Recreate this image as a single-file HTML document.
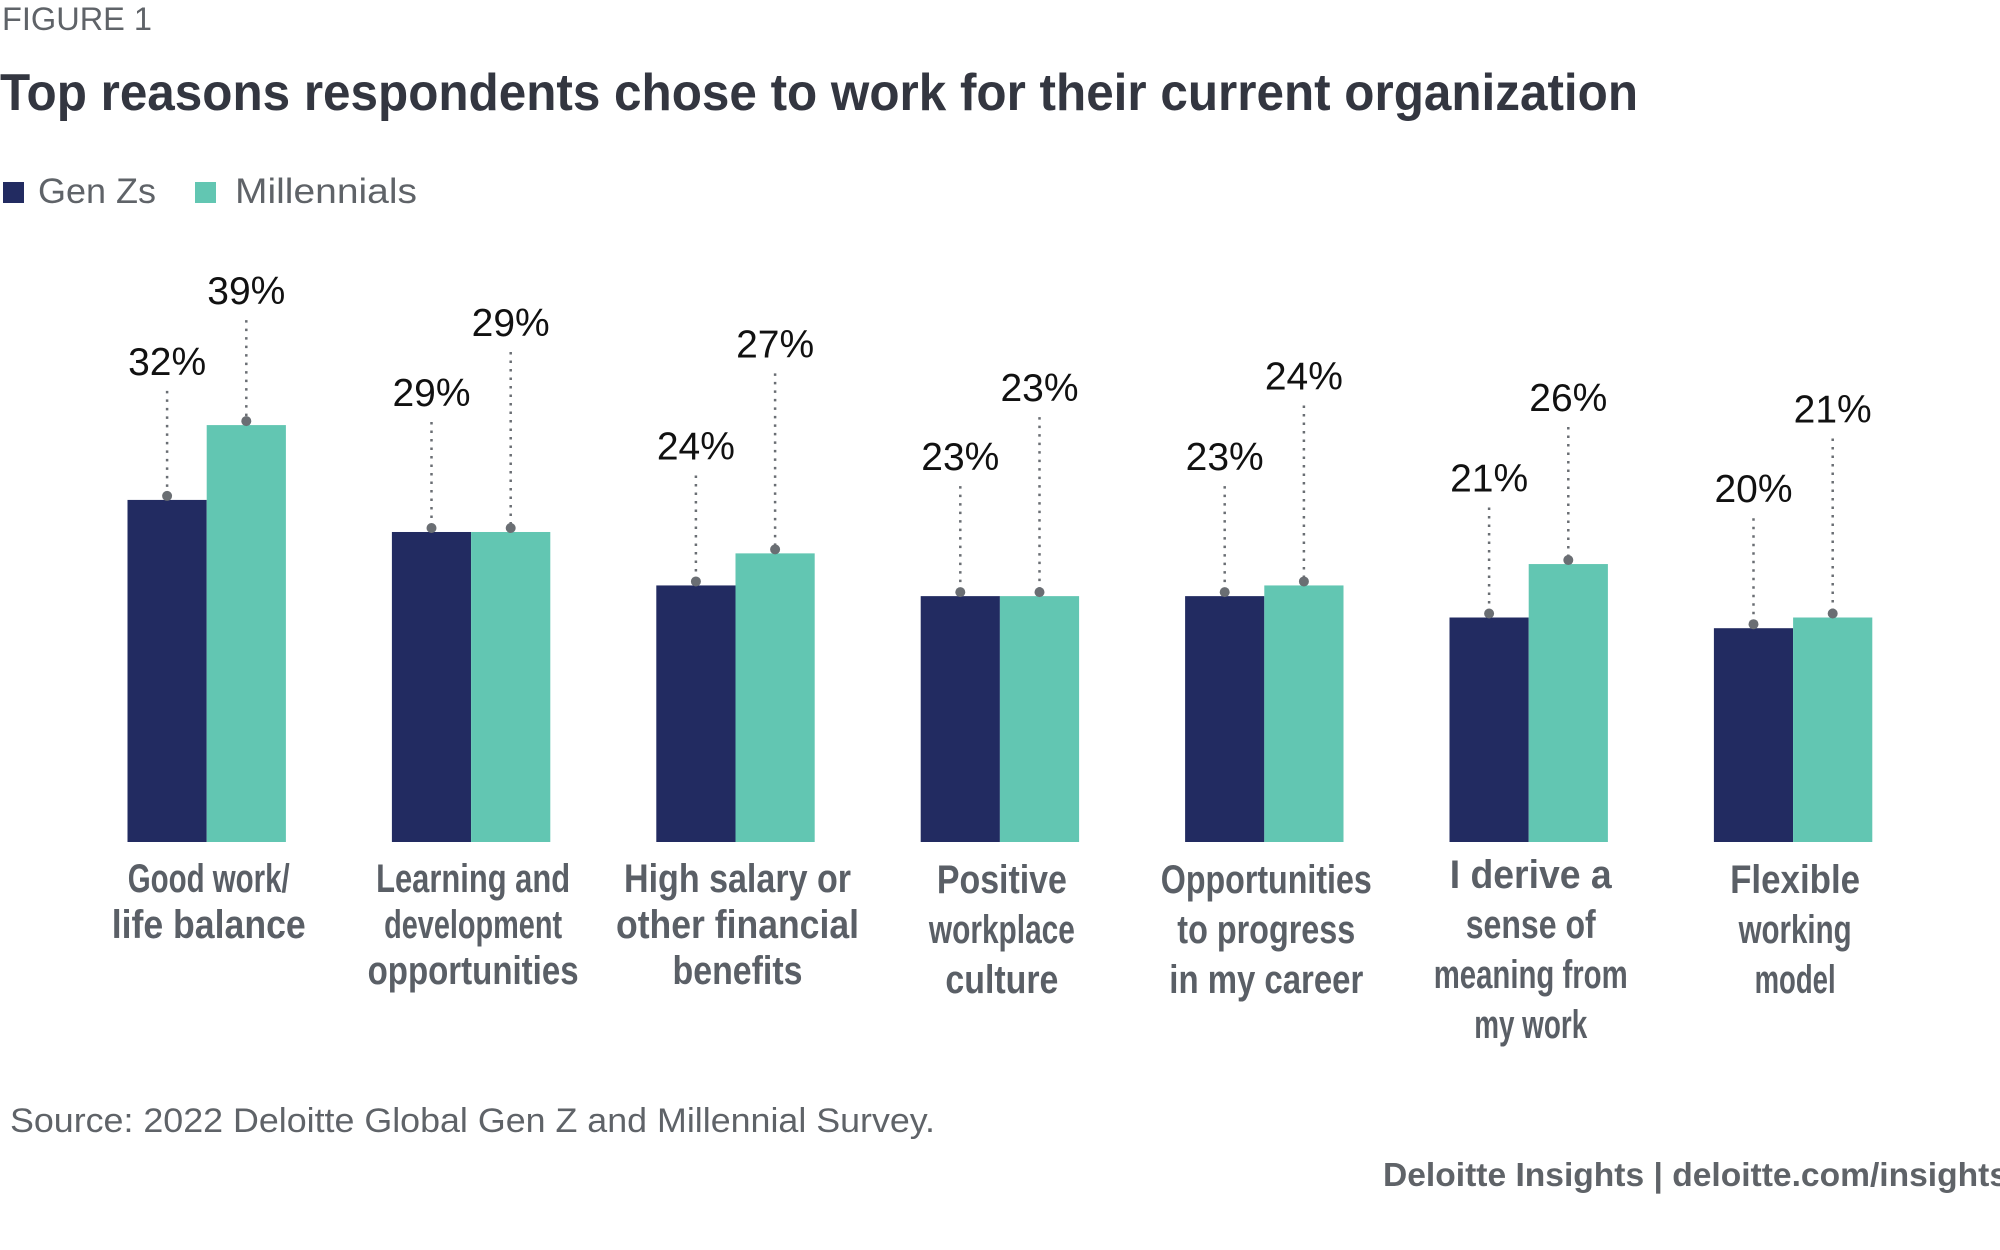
<!DOCTYPE html>
<html><head><meta charset="utf-8"><style>
html,body{margin:0;padding:0;background:#fff;}
svg{display:block;font-family:"Liberation Sans",sans-serif;}
</style></head><body>
<svg id="chart" width="2000" height="1250" viewBox="0 0 2000 1250" xmlns="http://www.w3.org/2000/svg">
<text x="2" y="30" font-size="32" fill="#5f6368" textLength="150" lengthAdjust="spacingAndGlyphs">FIGURE 1</text>
<text x="0" y="110" font-size="52" font-weight="bold" fill="#333640" textLength="1638" lengthAdjust="spacingAndGlyphs">Top reasons respondents chose to work for their current organization</text>
<g>
<rect x="3" y="182" width="21" height="21" fill="#222b61"/>
<text x="38" y="203" font-size="35" fill="#5f6368" textLength="118" lengthAdjust="spacingAndGlyphs">Gen Zs</text>
<rect x="195" y="182" width="21" height="21" fill="#62c6b2"/>
<text x="235" y="203" font-size="35" fill="#5f6368" textLength="182" lengthAdjust="spacingAndGlyphs">Millennials</text>
</g>
<g id="plot"></g>
<text x="10" y="1132" font-size="34" fill="#5f6368" textLength="925" lengthAdjust="spacingAndGlyphs">Source: 2022 Deloitte Global Gen Z and Millennial Survey.</text>
<text x="2008" y="1186" font-size="33" font-weight="bold" fill="#5f6368" text-anchor="end" textLength="625" lengthAdjust="spacingAndGlyphs">Deloitte Insights | deloitte.com/insights</text>
</svg>
<script>
const categories = [
  ["Good work/","life balance"],
  ["Learning and","development","opportunities"],
  ["High salary or","other financial","benefits"],
  ["Positive","workplace","culture"],
  ["Opportunities","to progress","in my career"],
  ["I derive a","sense of","meaning from","my work"],
  ["Flexible","working","model"]
];
const genZ = [32, 29, 24, 23, 23, 21, 20];
const millennials = [39, 29, 27, 23, 24, 26, 21];

const NS = "http://www.w3.org/2000/svg";
const plot = document.getElementById("plot");
const baseY = 842, pxPerPct = 10.69, x0 = 127.5, groupStep = 264.4, barW = 79.2;
// label lift above bar top (layout), per series per group
const liftZ = [125, 126, 126, 126, 126, 126, 126];
const liftM = [121, 196, 196, 195, 196, 153, 195];
function yScale(v){ return baseY - v * pxPerPct; }
function xBar(i, s){ return x0 + i * groupStep + s * barW; }
function mk(tag, attrs){ const e = document.createElementNS(NS, tag); for (const k in attrs) e.setAttribute(k, attrs[k]); plot.appendChild(e); return e; }

const series = [genZ, millennials];
const lifts = [liftZ, liftM];
const colors = ["#222b61", "#62c6b2"];
const names = ["genz", "millennials"];
categories.forEach((cat, i) => {
  series.forEach((vals, s) => {
    const v = vals[i];
    const x = xBar(i, s), top = yScale(v), cx = x + barW / 2;
    const r = mk("rect", {x: x, y: top, width: barW, height: baseY - top, fill: colors[s]});
    
    
    const ly = top - lifts[s][i];
    const ln = mk("line", {x1: cx, x2: cx, y1: ly + 16, y2: top - 4, stroke: "#6a6e73", "stroke-width": 2.5, "stroke-dasharray": "2.5 6"});
    
    
    const d = mk("circle", {cx: cx, cy: top - 4, r: 5, fill: "#6a6e73"});
    
    
    const t = mk("text", {x: cx, y: ly, "font-size": 39, fill: "#111", "text-anchor": "middle"});
    t.textContent = v + "%";
    
    
  });
  const center = x0 + i * groupStep + barW + 2;
  const lh = i < 3 ? 46 : 50;
  const y0 = cat.length > 3 ? 888 : (i < 3 ? 892 : 893);
  cat.forEach((line, j) => {
    const t = mk("text", {x: center, y: y0 + j * lh, "font-size": 40, "font-weight": "bold", fill: "#5a5f66", "text-anchor": "middle"});
    t.textContent = line;
    t.setAttribute("textLength", Math.round(line.length * 16.2));
    t.setAttribute("lengthAdjust", "spacingAndGlyphs");
    
    
  });
});
</script>
</body></html>
